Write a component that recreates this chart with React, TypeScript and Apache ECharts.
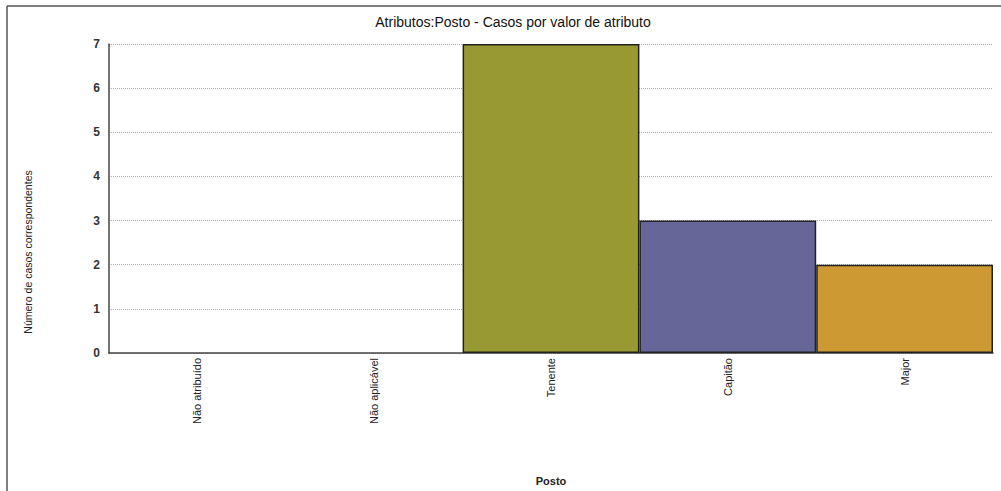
import React, { useEffect, useRef } from "react";
import * as echarts from "echarts";

const categories = ["Não atribuído", "Não aplicável", "Tenente", "Capitão", "Major"];
const values = [0, 0, 7, 3, 2];
const barColors = ["#999933", "#999933", "#999933", "#666699", "#CC9933"];
const yTicks = [0, 1, 2, 3, 4, 5, 6, 7];

export default function App() {
  const ref = useRef<HTMLDivElement>(null);
  useEffect(() => {
    if (!ref.current) return;
    const chart = echarts.init(ref.current, null, { renderer: "svg" });
    const narrow = "'Liberation Sans Narrow', 'Arial Narrow', 'Liberation Sans', Arial, sans-serif";
    chart.setOption({
      animation: false,
      backgroundColor: "#ffffff",
      title: {
        text: "Atributos:Posto - Casos por valor de atributo",
        left: 508,
        textAlign: "center",
        top: 10,
        textStyle: { fontFamily: "'Liberation Sans', Arial, sans-serif", fontSize: 14, fontWeight: "normal", color: "#111" },
      },
      graphic: [
        { type: "line", shape: { x1: 7, y1: 6, x2: 1001, y2: 6 }, style: { stroke: "#555", lineWidth: 1.5 } },
        { type: "line", shape: { x1: 7, y1: 6, x2: 7, y2: 491 }, style: { stroke: "#555", lineWidth: 1.5 } },
        {
          type: "text",
          x: 28,
          y: 252,
          rotation: Math.PI / 2,
          style: {
            text: "Número de casos correspondentes",
            fontFamily: narrow,
            fontSize: 10.5,
            fill: "#222",
            align: "center",
            verticalAlign: "middle",
          },
        },
      ],
      grid: { left: 109, right: 8, top: 44, bottom: 137, containLabel: false },
      xAxis: {
        type: "category",
        data: categories,
        name: "Posto",
        nameLocation: "middle",
        nameGap: 122,
        nameTextStyle: { fontFamily: "'Liberation Sans', Arial, sans-serif", fontSize: 11, fontWeight: "bold", color: "#222" },
        axisLine: { show: true, lineStyle: { color: "#444", width: 1.5 } },
        axisTick: { show: false },
        axisLabel: {
          rotate: 90,
          margin: 5,
          interval: 0,
          fontFamily: narrow,
          fontSize: 11,
          color: "#222",
        },
        splitLine: { show: false },
      },
      yAxis: {
        type: "value",
        min: 0,
        max: 7,
        interval: 1,
        axisLine: { show: true, lineStyle: { color: "#444", width: 1.5 } },
        axisTick: { show: false },
        axisLabel: {
          margin: 9,
          fontFamily: "'Liberation Sans', Arial, sans-serif",
          fontSize: 12,
          fontWeight: "bold",
          color: "#333",
          formatter: (v: number) => (yTicks.includes(v) ? String(v) : ""),
        },
        splitLine: { show: true, lineStyle: { color: "#aaa", type: "dotted", width: 1 } },
      },
      series: [
        {
          type: "bar",
          data: values.map((v, i) => ({
            value: v,
            itemStyle: { color: barColors[i], borderColor: v > 0 ? "#222" : "transparent", borderWidth: v > 0 ? 1.5 : 0 },
          })),
          barCategoryGap: "0%",
        },
      ],
    });
    return () => chart.dispose();
  }, []);
  return <div ref={ref} style={{ position: "fixed", left: 0, top: 0, width: 1001, height: 491 }} />;
}
